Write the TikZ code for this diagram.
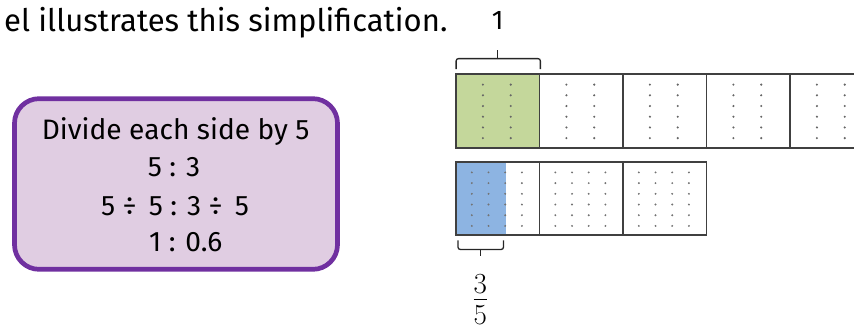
\documentclass[tikz,border=0pt]{standalone}
\usepackage{fontspec}
\setmainfont{Fira Sans}
\usetikzlibrary{calc}

\definecolor{rulepurple}{RGB}{112,48,160}
\definecolor{rulefill}{RGB}{224,205,226}
\definecolor{wholegreen}{RGB}{196,215,155}
\definecolor{partblue}{RGB}{141,180,226}

\begin{document}
\begin{tikzpicture}[x=0.03cm,y=-0.03cm]
    \tikzstyle{cell}=[rectangle,draw=black!75,line width=1.5pt,minimum width=2.505cm,inner sep=0pt]
    \tikzstyle{bracket}=[line width=1.1pt,black!85,rounded corners=2pt]
    \tikzstyle{ruleline}=[anchor=base,inner sep=0pt,font=\fontsize{24}{28}\selectfont]

    \useasboundingbox (0,0) rectangle (854,331);
    \clip (0,0) rectangle (854,331);

    \node[anchor=base west,inner sep=0pt,font=\fontsize{26.5}{32}\selectfont] (intro) at (4,31.5) {el illustrates this simplification.};

    % the working, in a rounded box
    \node[draw=rulepurple,fill=rulefill,line width=4pt,rounded corners=21pt,minimum width=9.69cm,minimum height=5.12cm] (rule) at (176,184) {};
    \foreach \txt/\x/\y [count=\i] in {Divide each side by 5/175.7/139.3, 5 : 3/174/176, 5 ÷ \,5 : 3 ÷ \,5/175/215, 1 : 0.6/185.7/251.7}
        \node[ruleline] (line-\i) at (\x,\y) {\txt};

    % five wholes
    \foreach \i/\col in {1/wholegreen, 2/white, 3/white, 4/white, 5/white}
        \node[cell,fill=\col,minimum height=2.22cm] (whole-\i) at (456+83.5*\i-41.75,111) {};
    \foreach \i in {1,...,5}
        \foreach \c in {1,2}
            \foreach \r in {0,...,5}
                \fill[black!60] ($(whole-\i.north west)+(27.8*\c,11.5+10.7*\r)$) circle (1pt);

    % three wholes, three fifths of the first shaded
    \node[fill=partblue,inner sep=0pt,minimum width=1.5cm,minimum height=2.19cm,anchor=north west] (part) at (456,162) {};
    \foreach \i in {1,2,3}
        \node[cell,minimum height=2.19cm] (third-\i) at (456+83.5*\i-41.75,198.5) {};
    \foreach \i in {1,2,3}
        \foreach \c in {1,...,4}
            \foreach \r in {0,...,5}
                \fill[black!55] ($(third-\i.north west)+(16.7*\c,11.3+10.7*\r)$) circle (0.9pt);

    % brackets and labels
    \draw[bracket] ($(whole-1.north west)+(1,-4)$) |- ($(whole-1.north)+(0,-14.5)$) -| ($(whole-1.north east)+(0,-4)$);
    \draw[bracket] ($(whole-1.north)+(0,-14.5)$) -- ++(0,-9);
    \node[inner sep=0pt,font=\fontsize{23}{26}\selectfont] (one) at ($(whole-1.north)+(0,-52.5)$) {1};

    \draw[bracket] ($(part.south west)+(2,5)$) |- ($(part.south)+(-1,14)$) -| ($(part.south east)+(-3,5)$);
    \draw[bracket] ($(part.south)+(-1,14)$) -- ++(0,7);
    \node[inner sep=0pt,anchor=north,font=\fontsize{29}{32}\selectfont] (frac) at ($(part.south)+(-1,39)$)
        {$\vcenter{\hbox{$3$}\kern5pt\hrule height 0.8pt\kern5pt\hbox{$5$}}$};
\end{tikzpicture}
\end{document}
